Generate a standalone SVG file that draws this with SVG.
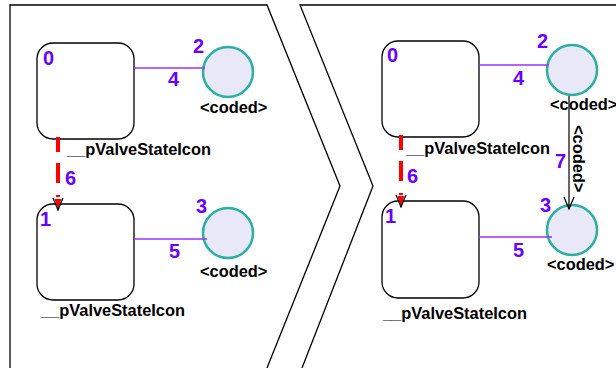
<svg xmlns="http://www.w3.org/2000/svg" width="616" height="368" viewBox="0 0 616 368">
<defs>
<style>
.panel{fill:none;stroke:#000;stroke-width:1.3}
.state{fill:#fff;stroke:#000;stroke-width:1.3}
.ps{fill:#E8E8F8;stroke:#2BAFA0;stroke-width:2.5}
.num{font-family:"Liberation Sans",Arial,sans-serif;font-weight:bold;font-size:20px;fill:#6A00FF}
.lbl{font-family:"Liberation Sans",Arial,sans-serif;font-weight:bold;font-size:16.4px;fill:#000}
.assoc{stroke:#9933FF;stroke-width:1.3;fill:none}
.trans{stroke:#FF0000;stroke-width:4;fill:none;stroke-dasharray:15,11,20,12}
.dep{stroke:#000;stroke-width:1.2;fill:none}
</style>
<marker id="arrRed" viewBox="0 0 14 12" refX="13" refY="6" markerWidth="14" markerHeight="12" markerUnits="userSpaceOnUse" orient="auto">
<polygon points="2,2.5 2,9.5 13,6" fill="#FF0000"/>
<polyline points="1,1 13,6 1,11" fill="none" stroke="#000" stroke-width="1.2"/>
</marker>
<marker id="arrOpen" viewBox="0 0 14 12" refX="13" refY="6" markerWidth="14" markerHeight="12" markerUnits="userSpaceOnUse" orient="auto">
<polyline points="1,1 13,6 1,11" fill="none" stroke="#000" stroke-width="1.2"/>
</marker>
</defs>
<g id="panels">
<polyline class="panel" points="10,368 10,5 267,5 340,186 267,368"/>
<polyline class="panel" points="302,368 373,186 300,5 616,5"/>
</g>
<g id="L0">
<rect class="state" x="37" y="43" width="97" height="96" rx="16"/>
<text class="num" x="43" y="65">0</text>
<text class="lbl" x="67" y="155">__pValveStateIcon</text>
</g>
<g id="L1">
<rect class="state" x="37" y="204" width="97" height="96" rx="16"/>
<text class="num" x="40" y="226">1</text>
<text class="lbl" x="41" y="316">__pValveStateIcon</text>
</g>
<g id="L2">
<circle class="ps" cx="228" cy="72" r="25"/>
<text class="num" x="193" y="53">2</text>
<text class="lbl" x="200" y="113">&lt;coded&gt;</text>
</g>
<g id="L3">
<circle class="ps" cx="228" cy="233" r="25"/>
<text class="num" x="196" y="213">3</text>
<text class="lbl" x="200" y="277">&lt;coded&gt;</text>
</g>
<g id="R0">
<rect class="state" x="382" y="41" width="97" height="96" rx="16"/>
<text class="num" x="387" y="62">0</text>
<text class="lbl" x="406" y="154">__pValveStateIcon</text>
</g>
<g id="R1">
<rect class="state" x="382" y="201" width="97" height="97" rx="16"/>
<text class="num" x="385" y="223">1</text>
<text class="lbl" x="383" y="319">__pValveStateIcon</text>
</g>
<g id="R2">
<circle class="ps" cx="572" cy="70" r="25"/>
<text class="num" x="537" y="48">2</text>
<text class="lbl" x="550" y="110">&lt;coded&gt;</text>
</g>
<g id="R3">
<circle class="ps" cx="572" cy="230" r="25"/>
<text class="num" x="540" y="212">3</text>
<text class="lbl" x="547" y="270">&lt;coded&gt;</text>
</g>
<g id="connectors">
<line class="assoc" x1="134" y1="68" x2="205" y2="68"/>
<line class="assoc" x1="134" y1="239" x2="207" y2="239"/>
<line class="trans" x1="58" y1="137" x2="58" y2="197"/>
<line x1="58" y1="196" x2="58" y2="210" stroke="#000" stroke-width="0.01" marker-end="url(#arrRed)"/>
<line class="assoc" x1="479" y1="65" x2="549" y2="65"/>
<line class="assoc" x1="479" y1="237" x2="552" y2="237"/>
<line class="trans" x1="401" y1="135" x2="401" y2="195"/>
<line x1="401" y1="193" x2="401" y2="207" stroke="#000" stroke-width="0.01" marker-end="url(#arrRed)"/>
<line class="dep" x1="569" y1="96" x2="569" y2="209" marker-end="url(#arrOpen)"/>
<text class="num" x="65" y="185">6</text>
<text class="num" x="407" y="183">6</text>
<text class="num" x="168" y="86">4</text>
<text class="num" x="169" y="258">5</text>
<text class="num" x="513" y="85">4</text>
<text class="num" x="513" y="257">5</text>
<text class="num" x="555" y="168">7</text>
<text class="lbl" x="573" y="125" transform="rotate(90 573 125)">&lt;coded&gt;</text>
</g>
</svg>
